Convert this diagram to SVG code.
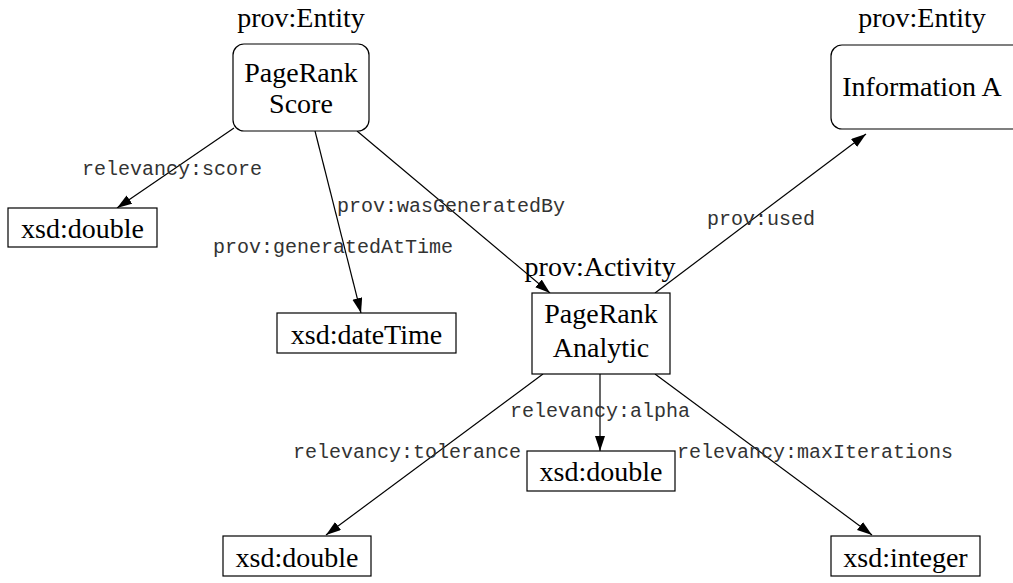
<svg xmlns="http://www.w3.org/2000/svg" width="1013" height="583" viewBox="0 0 1013 583">
<style>
.n{fill:#fff;stroke:#000;stroke-width:1.2}
.t{font-family:"Liberation Serif",serif;font-size:28px;fill:#000;text-anchor:middle}
.l{font-family:"Liberation Mono",monospace;font-size:20px;fill:#333}
.e{stroke:#000;stroke-width:1.2;fill:none;marker-end:url(#a)}
</style>
<defs>
<marker id="a" markerUnits="userSpaceOnUse" markerWidth="16" markerHeight="12" refX="15" refY="5" orient="auto">
<path d="M0,0 L15,5 L0,10 z" fill="#000"/>
</marker>
</defs>
<rect width="1013" height="583" fill="#fff"/>
<g id="edges">
<line class="e" x1="234" y1="128" x2="117" y2="208"/>
<line class="e" x1="315" y1="131" x2="361" y2="313"/>
<line class="e" x1="357" y1="131" x2="550" y2="293"/>
<line class="e" x1="655" y1="293" x2="866" y2="134"/>
<line class="e" x1="543" y1="374" x2="326" y2="535"/>
<line class="e" x1="600" y1="374" x2="600" y2="451"/>
<line class="e" x1="655" y1="374" x2="872" y2="535"/>
<text class="l" x="82" y="175">relevancy:score</text>
<text class="l" x="213" y="253">prov:generatedAtTime</text>
<text class="l" x="337" y="212">prov:wasGeneratedBy</text>
<text class="l" x="707" y="225">prov:used</text>
<text class="l" x="510" y="417">relevancy:alpha</text>
<text class="l" x="293" y="458">relevancy:tolerance</text>
<text class="l" x="677" y="458">relevancy:maxIterations</text>
</g>
<g id="score">
<text class="t" x="301" y="27">prov:Entity</text>
<rect class="n" x="233" y="44" width="136" height="87" rx="11"/>
<text class="t" x="301" y="82">PageRank</text>
<text class="t" x="301" y="113">Score</text>
</g>
<g id="infoA">
<text class="t" x="922" y="27">prov:Entity</text>
<rect class="n" x="831" y="45" width="200" height="84" rx="11"/>
<text class="t" x="922" y="96">Information A</text>
</g>
<g id="activity">
<text class="t" x="600" y="276">prov:Activity</text>
<rect class="n" x="532" y="293" width="138" height="81"/>
<text class="t" x="601" y="323">PageRank</text>
<text class="t" x="601" y="357">Analytic</text>
</g>
<g id="double1">
<rect class="n" x="8" y="208" width="149" height="39"/>
<text class="t" x="82.5" y="238">xsd:double</text>
</g>
<g id="datetime">
<rect class="n" x="277" y="313" width="179" height="40"/>
<text class="t" x="366.5" y="344">xsd:dateTime</text>
</g>
<g id="double2">
<rect class="n" x="527" y="451" width="148" height="40"/>
<text class="t" x="601" y="481">xsd:double</text>
</g>
<g id="double3">
<rect class="n" x="223" y="536" width="148" height="40"/>
<text class="t" x="297" y="567">xsd:double</text>
</g>
<g id="integer">
<rect class="n" x="831" y="536" width="149" height="40"/>
<text class="t" x="905.5" y="567">xsd:integer</text>
</g>
</svg>
